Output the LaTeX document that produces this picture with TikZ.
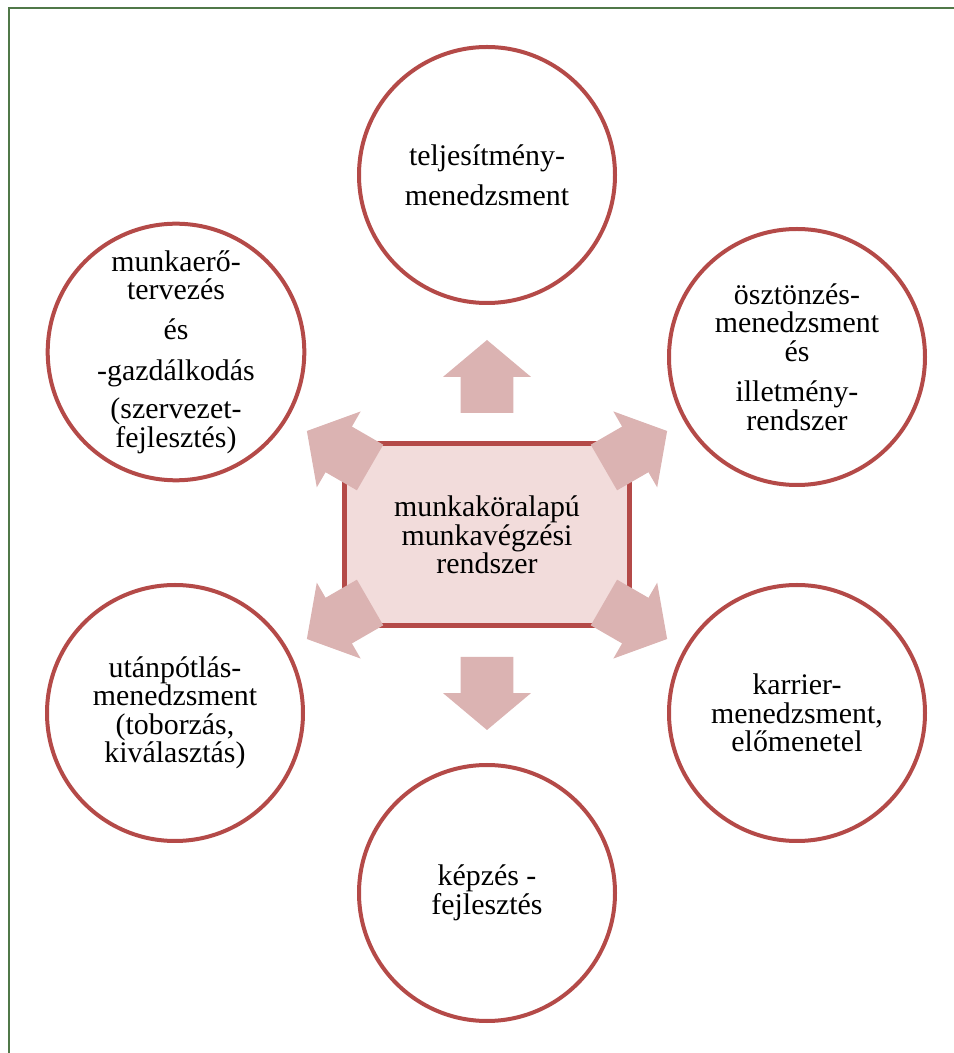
\documentclass[tikz,border=0pt]{standalone}
\usepackage{fontspec}
\setmainfont{Liberation Serif}
\usetikzlibrary{shapes.arrows}

\definecolor{ringred}{RGB}{180,74,72}
\definecolor{boxpink}{RGB}{242,220,219}
\definecolor{arrowpink}{RGB}{219,179,178}
\definecolor{framegreen}{RGB}{80,120,72}

\begin{document}
\begin{tikzpicture}
	 [every node/.style={font=\fontsize{17}{16.2}\selectfont},
	  area/.style={circle,draw=ringred,line width=0.08cm,fill=white,minimum size=5.12cm,inner sep=0pt,align=center},
	  hub/.style={rectangle,draw=ringred,line width=0.1cm,fill=boxpink,minimum width=5.7cm,minimum height=3.64cm,align=center},
	  blockarrow/.style={single arrow,fill=arrowpink,inner xsep=0pt,inner ysep=0.52cm,outer sep=0pt,
	     single arrow head extend=0.35cm,single arrow tip angle=100,minimum height=1.46cm,anchor=tail}]

	\useasboundingbox (0,0) rectangle (19.08,21.06);
	\draw[framegreen,line width=0.04cm] (19.08,20.9) -- (0.18,20.9) -- (0.18,0);

	  \node[area] (perf) at (9.74,17.56) {teljesítmény-\\[0.23cm]menedzsment};
	  \node[area] (plan) at (3.52,14.02) {munkaerő-\\tervezés\\[0.24cm]és\\[0.24cm]-gazdálkodás\\[0.2cm](szervezet-\\fejlesztés)};
	  \node[area] (pay) at (15.94,13.92) {ösztönzés-\\menedzsment\\és\\[0.24cm]illetmény-\\rendszer};
	  \node[area] (supply) at (3.50,6.80) {utánpótlás-\\menedzsment\\(toborzás,\\kiválasztás)};
	  \node[area] (career) at (15.94,6.80) {karrier-\\menedzsment,\\előmenetel};
	  \node[area] (train) at (9.74,3.20) {képzés -\\fejlesztés};

	  \node[hub] (hub) at (9.74,10.36) {munkaköralapú\\munkavégzési\\rendszer};

	\foreach \ang/\dist in {90/2.44,270/2.44,30/2.7,150/2.7,210/2.7,330/2.7}
    \node[blockarrow,rotate=\ang] at ([shift={(\ang:\dist)}]hub.center) {};

\end{tikzpicture}
\end{document}
